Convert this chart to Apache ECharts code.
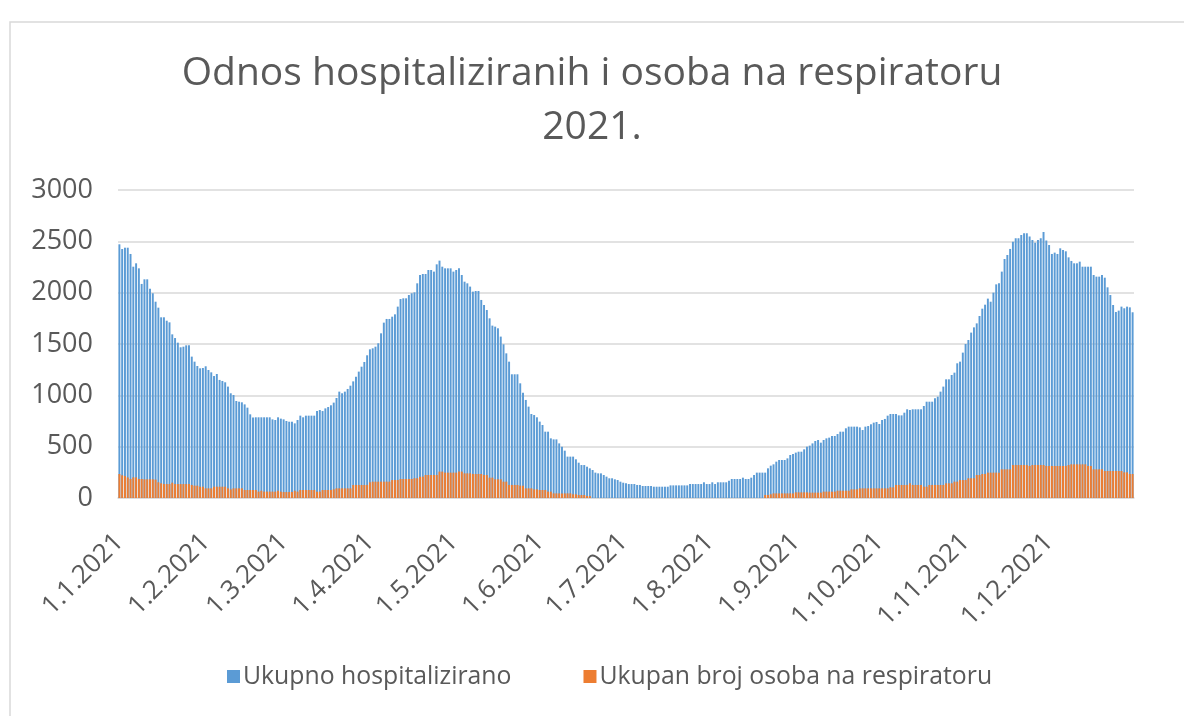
<!DOCTYPE html>
<html>
<head>
<meta charset="utf-8">
<script src="https://cdn.jsdelivr.net/npm/echarts@6/dist/echarts.min.js"></script>
<style>
  html, body { margin: 0; padding: 0; background: #fff; }
  #chart { width: 1184px; height: 716px; }
</style>
</head>
<body>
<div id="chart"></div>
<script>
// nazivi serija
const seriesNames = ["Ukupno hospitalizirano", "Ukupan broj osoba na respiratoru"];

// oznake y osi
const yTicks = [0, 500, 1000, 1500, 2000, 2500, 3000];

// dani 2021. (d.m.2021)
const days = [];
for (let i = 0; i < 365; i++) {
  const d = new Date(2021, 0, 1 + i);
  days.push(d.getDate() + "." + (d.getMonth() + 1) + ".2021");
}

// ukupno hospitalizirano, po danu
const hospitalized = [
  2471,2425,2438,2438,2377,2253,2286,2237,2085,2130,
  2130,2039,1994,1912,1854,1760,1760,1727,1711,1594,
  1558,1513,1468,1474,1487,1487,1377,1328,1286,1263,
  1266,1283,1247,1224,1188,1208,1150,1140,1127,1085,
  1020,1003,945,938,932,912,880,815,783,786,
  786,786,786,786,786,766,760,786,773,766,
  750,743,743,727,760,802,786,802,802,802,
  802,847,857,847,873,886,903,929,974,1036,
  1020,1036,1062,1094,1136,1182,1231,1279,1325,1390,
  1448,1458,1474,1507,1604,1708,1744,1744,1766,1789,
  1864,1938,1945,1945,1977,1994,2003,2091,2172,2182,
  2182,2221,2221,2205,2276,2312,2253,2237,2237,2237,
  2205,2221,2237,2172,2107,2091,2059,2010,2016,2016,
  1929,1880,1831,1750,1679,1669,1653,1572,1497,1409,
  1328,1205,1205,1205,1117,1026,955,890,818,808,
  786,744,711,646,646,581,571,571,532,500,
  461,403,403,403,377,344,321,321,305,289,
  273,247,240,240,224,208,192,192,182,175,
  159,149,143,136,136,136,127,127,117,117,
  117,117,
  110,110,110,110,110,110,123,123,123,123,
  123,123,123,136,136,136,136,136,153,136,
  136,153,136,153,153,153,153,169,185,185,
  185,185,198,185,185,198,224,247,247,247,
  247,289,315,328,354,370,370,370,386,419,
  429,442,451,451,474,500,510,532,555,565,
  539,565,581,588,604,604,623,646,646,679,
  695,695,695,695,688,662,695,701,718,734,
  740,721,760,770,802,818,818,818,805,805,
  831,864,857,864,864,864,864,
  896,938,938,938,971,987,1036,1085,1156,1156,
  1198,1221,1312,1328,1416,1500,1539,1611,1662,1701,
  1773,1844,1883,1942,1912,2000,2081,2091,2205,2328,
  2367,2426,2497,2529,2529,2562,2578,2578,2546,2513,
  2487,2513,2529,2591,2507,2464,2377,2390,2377,2432,
  2416,2403,2344,2309,2286,2286,2302,2253,2253,2253,
  2253,2172,2156,2156,2172,2146,2052,1977,1880,1812,
  1825,1864,1848,1864,1857,1809
];

// osobe na respiratoru, po danu
const respirator = [
  234,221,214,200,185,201,201,185,185,182,
  182,182,182,179,153,143,136,136,136,149,
  136,136,136,136,136,136,127,120,120,110,
  110,94,94,94,110,110,110,110,110,94,
  84,94,94,94,94,78,78,78,78,78,
  62,71,62,62,62,62,62,71,62,58,
  58,58,58,71,62,78,78,78,78,78,
  78,62,62,78,78,78,78,84,94,94,
  94,94,94,94,127,127,127,127,127,127,
  153,
  159,159,159,159,159,159,159,175,175,175,
  185,185,185,185,185,192,192,208,208,224,
  224,224,224,224,257,257,247,247,247,247,
  247,257,257,240,240,240,234,234,234,234,
  224,224,198,198,182,182,182,159,159,127,
  127,127,127,120,120,94,94,94,84,84,
  78,78,78,62,62,45,45,45,45,45,
  45,45,36,36,29,29,29,19,19,0,
  0,0,0,0,0,0,0,0,0,0,
  0,0,0,0,0,0,0,0,0,0,
  0,
  0,0,0,0,0,0,0,0,0,0,
  0,0,0,0,0,0,0,0,0,0,
  0,0,0,0,0,0,0,0,0,0,
  0,0,0,0,0,0,0,0,0,0,
  29,29,36,45,45,45,45,45,45,45,
  45,55,55,55,55,55,52,52,52,52,
  52,62,62,62,62,62,71,71,71,71,
  71,84,84,84,94,94,94,94,94,94,
  94,94,94,94,94,104,104,127,127,127,
  127,127,143,127,127,127,127,
  110,110,127,127,127,127,127,127,143,143,
  143,159,159,175,175,175,192,192,192,224,
  224,234,234,247,247,247,247,247,279,279,
  279,279,321,321,321,321,321,321,312,321,
  321,321,321,321,312,312,312,312,312,312,
  312,312,321,328,328,328,328,328,328,312,
  312,279,279,279,279,263,263,263,263,263,
  263,263,250,250,234,234
];

const font = "'Open Sans', 'Noto Sans', sans-serif";
const grey = "#595959";

// prvi dan u mjesecu dobiva oznaku
const isMonthStart = (index, value) => value.split(".")[0] === "1";

var myChart = echarts.init(document.getElementById("chart"));
var option = {
  animation: false,
  title: {
    text: "Odnos hospitaliziranih i osoba na respiratoru\n2021.",
    left: "center",
    top: 42,
    textStyle: {
      fontFamily: font,
      fontSize: 39,
      fontWeight: "normal",
      color: grey,
      lineHeight: 54,
    },
  },
  graphic: [
    {
      type: "rect",
      shape: { x: 10, y: 22, width: 1400, height: 900 },
      style: { fill: "none", stroke: "#D9D9D9", lineWidth: 1.5 },
      silent: true,
    },
  ],
  legend: {
    data: seriesNames,
    bottom: 22,
    left: 222,
    icon: "rect",
    itemWidth: 13,
    itemHeight: 13,
    itemGap: 72,
    textStyle: { fontFamily: font, fontSize: 24.8, color: grey, padding: [0, 0, 0, -2] },
  },
  grid: { left: 118, right: 50, top: 190, bottom: 218 },
  xAxis: {
    type: "category",
    data: days,
    axisLine: { lineStyle: { color: "#D9D9D9", width: 1.5 } },
    axisTick: {
      interval: isMonthStart,
      length: 8,
      lineStyle: { color: "#D9D9D9", width: 1.5 },
    },
    axisLabel: {
      interval: isMonthStart,
      rotate: 45,
      margin: 40,
      fontFamily: font,
      fontSize: 26,
      color: grey,
    },
  },
  yAxis: {
    type: "value",
    min: yTicks[0],
    max: yTicks[yTicks.length - 1],
    interval: 500,
    axisLine: { show: false },
    axisTick: { show: false },
    splitLine: { lineStyle: { color: "#D9D9D9", width: 1.5 } },
    axisLabel: {
      margin: 25,
      fontFamily: font,
      fontSize: 27,
      color: grey,
      formatter: (v) => String(v),
    },
  },
  series: [
    {
      name: seriesNames[0],
      type: "bar",
      data: hospitalized,
      barGap: "-100%",
      barCategoryGap: "30%",
      itemStyle: { color: "#5B9BD5" },
    },
    {
      name: seriesNames[1],
      type: "bar",
      data: respirator,
      barGap: "-100%",
      barCategoryGap: "30%",
      itemStyle: { color: "#ED7D31" },
    },
  ],
};
myChart.setOption(option);
</script>
</body>
</html>
